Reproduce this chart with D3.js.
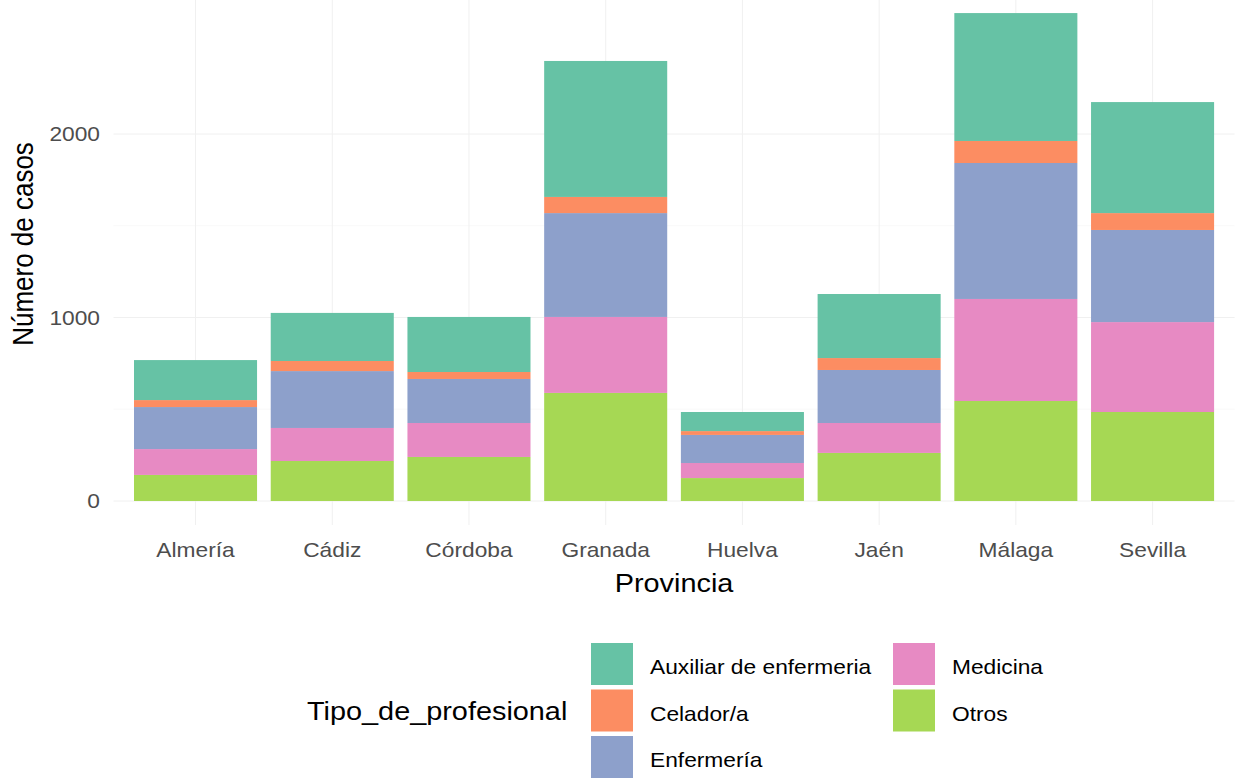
<!DOCTYPE html>
<html>
<head>
<meta charset="utf-8">
<script src="https://cdn.jsdelivr.net/npm/d3@7"></script>
<style>
  html, body { margin: 0; padding: 0; background: #ffffff; }
  svg { display: block; font-family: "Liberation Sans", Arial, sans-serif; }
</style>
</head>
<body>
<svg id="chart" width="1238" height="778"></svg>
<script>
// ---- data ----
const provincias = ["Almería", "Cádiz", "Córdoba", "Granada", "Huelva", "Jaén", "Málaga", "Sevilla"];
const tipos = ["Auxiliar de enfermeria", "Celador/a", "Enfermería", "Medicina", "Otros"];
const auxiliar   = [218, 262, 300, 741, 104, 349, 697, 605];
const celador    = [ 38,  55,  38,  88,  21,  65, 120,  92];
const enfermeria = [229, 310, 240, 566, 153, 289, 741, 502];
const medicina   = [141, 180, 185, 414,  82, 163, 556, 490];
const otros      = [142, 218, 240, 589, 125, 262, 545, 485];
const yTicks = [0, 1000, 2000];
const yMinor = [500, 1500];
const colores = ["#66c2a5", "#fc8d62", "#8da0cb", "#e78ac3", "#a6d854"];

const series = [auxiliar, celador, enfermeria, medicina, otros];
const rows = provincias.map((p, i) => {
  const r = { provincia: p };
  tipos.forEach((t, j) => { r[t] = series[j][i]; });
  return r;
});

// ---- layout ----
const svg = d3.select("#chart");
const SX = 1.11; // horizontal text stretch seen in the reference
const panel = { left: 113.5, right: 1234.6 };

const x = d3.scaleBand()
  .domain(provincias)
  .range([panel.left, panel.right])
  .paddingInner(0.1)
  .paddingOuter(0.15);

const y = d3.scaleLinear().domain([0, 2000]).range([501, 134]);

const color = d3.scaleOrdinal().domain(tipos).range(colores);

// gridlines
const grid = svg.append("g");
grid.selectAll("line.minor").data(yMinor).join("line")
  .attr("x1", panel.left).attr("x2", panel.right)
  .attr("y1", d => y(d)).attr("y2", d => y(d))
  .attr("stroke", "#f5f5f5").attr("stroke-width", 0.6);
grid.selectAll("line.major").data(yTicks).join("line")
  .attr("x1", panel.left).attr("x2", panel.right)
  .attr("y1", d => y(d)).attr("y2", d => y(d))
  .attr("stroke", "#f0f0f0").attr("stroke-width", 1);
grid.selectAll("line.vert").data(provincias).join("line")
  .attr("x1", d => x(d) + x.bandwidth() / 2).attr("x2", d => x(d) + x.bandwidth() / 2)
  .attr("y1", -10).attr("y2", 525)
  .attr("stroke", "#f0f0f0").attr("stroke-width", 1);

// stacked bars (first level on top, as ggplot does)
const stack = d3.stack().keys(tipos.slice().reverse());
const stacked = stack(rows);

svg.append("g").selectAll("g").data(stacked).join("g")
  .attr("fill", d => color(d.key))
  .selectAll("rect").data(d => d).join("rect")
  .attr("x", d => x(d.data.provincia))
  .attr("width", x.bandwidth())
  .attr("y", d => y(d[1]))
  .attr("height", d => y(d[0]) - y(d[1]));

// y axis tick labels
const yAxis = svg.append("g");
yAxis.selectAll("g").data(yTicks).join("g")
  .attr("transform", d => `translate(100,${y(d)}) scale(${SX},1)`)
  .append("text")
  .attr("text-anchor", "end")
  .attr("dy", "0.36em")
  .attr("font-size", 20.5)
  .attr("fill", "#4d4d4d")
  .text(d => d3.format("d")(d));

// x axis tick labels
const xAxis = svg.append("g");
xAxis.selectAll("g").data(provincias).join("g")
  .attr("transform", d => `translate(${x(d) + x.bandwidth() / 2},557) scale(${SX},1)`)
  .append("text")
  .attr("text-anchor", "middle")
  .attr("font-size", 20.5)
  .attr("fill", "#4d4d4d")
  .text(d => d);

// axis titles
svg.append("g")
  .attr("transform", `translate(${(panel.left + panel.right) / 2},592) scale(${SX},1)`)
  .append("text")
  .attr("text-anchor", "middle")
  .attr("font-size", 26)
  .attr("fill", "#000")
  .text("Provincia");

svg.append("g")
  .attr("transform", `translate(33,244) scale(${SX},1) rotate(-90)`)
  .append("text")
  .attr("text-anchor", "middle")
  .attr("font-size", 26)
  .attr("fill", "#000")
  .text("Número de casos");

// legend
const legend = svg.append("g");
legend.append("g")
  .attr("transform", `translate(307,720) scale(${SX},1)`)
  .append("text")
  .attr("font-size", 26)
  .attr("fill", "#000")
  .text("Tipo_de_profesional");

const colX = [591, 893];
const rowY = [643, 689.5, 736];
const items = tipos.map((t, i) => ({
  t, col: Math.floor(i / 3), row: i % 3
}));
const li = legend.selectAll("g.item").data(items).join("g")
  .attr("class", "item");
li.append("rect")
  .attr("x", d => colX[d.col])
  .attr("y", d => rowY[d.row])
  .attr("width", 42).attr("height", 42)
  .attr("fill", d => color(d.t));
li.append("g")
  .attr("transform", d => `translate(${colX[d.col] + 59},${rowY[d.row] + 31}) scale(${SX},1)`)
  .append("text")
  .attr("font-size", 20.5)
  .attr("fill", "#000")
  .text(d => d.t);
</script>
</body>
</html>
